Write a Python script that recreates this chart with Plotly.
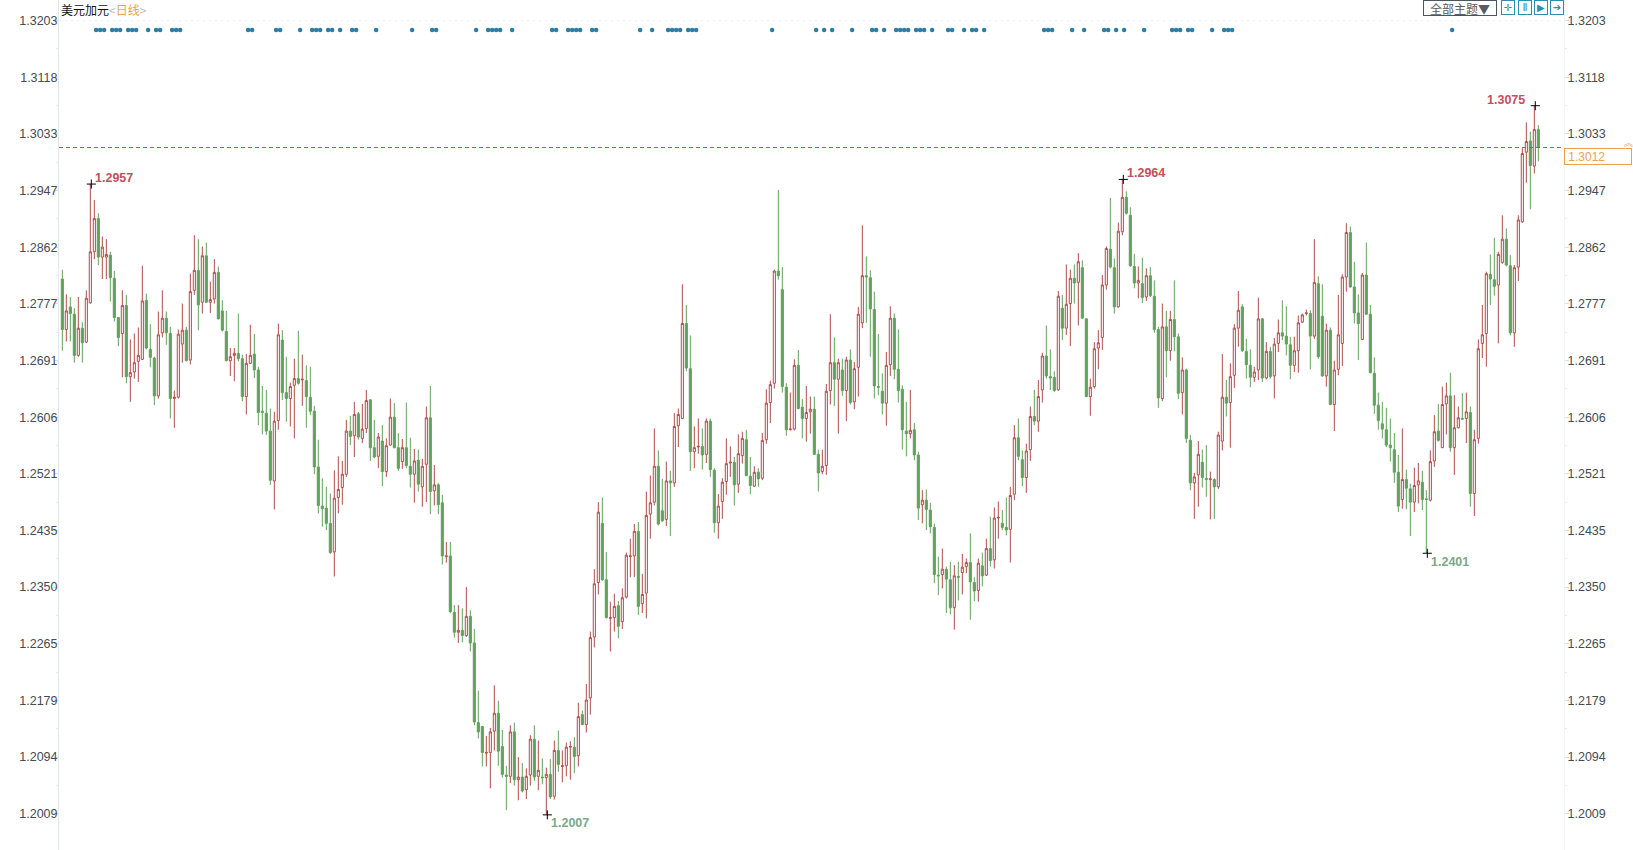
import numpy as np
import plotly.graph_objects as go

tick_values = [1.3203,1.3118,1.3033,1.2947,1.2862,1.2777,1.2691,1.2606,1.2521,1.2435,1.2350,1.2265,1.2179,1.2094,1.2009]

highs = [
1.2828,1.2791,1.2787,1.2770,1.2787,1.2749,1.2797,1.2957,1.2933,1.2913,
1.2878,1.2874,1.2855,1.2826,1.2757,1.2797,1.2790,1.2723,1.2732,1.2741,
1.2834,1.2792,1.2746,1.2697,1.2765,1.2797,1.2765,1.2742,1.2646,1.2738,
1.2777,1.2742,1.2822,1.2880,1.2874,1.2863,1.2869,1.2810,1.2844,1.2833,
1.2782,1.2766,1.2710,1.2710,1.2762,1.2700,1.2701,1.2745,1.2731,1.2682,
1.2653,1.2647,1.2619,1.2614,1.2747,1.2737,1.2697,1.2658,1.2694,1.2736,
1.2700,1.2684,1.2682,1.2623,1.2572,1.2514,1.2501,1.2491,1.2526,1.2547,
1.2540,1.2602,1.2608,1.2629,1.2614,1.2626,1.2647,1.2633,1.2602,1.2582,
1.2594,1.2574,1.2634,1.2627,1.2582,1.2573,1.2628,1.2575,1.2558,1.2557,
1.2543,1.2622,1.2653,1.2534,1.2507,1.2489,1.2418,1.2418,1.2323,1.2323,
1.2318,1.2350,1.2315,1.2287,1.2194,1.2141,1.2126,1.2138,1.2202,1.2179,
1.2135,1.2081,1.2142,1.2146,1.2094,1.2085,1.2077,1.2127,1.2142,1.2119,
1.2092,1.2078,1.2091,1.2119,1.2134,1.2104,1.2116,1.2118,1.2124,1.2176,
1.2164,1.2204,1.2283,1.2377,1.2478,1.2485,1.2403,1.2328,1.2340,1.2329,
1.2348,1.2402,1.2423,1.2445,1.2448,1.2370,1.2494,1.2518,1.2589,1.2556,
1.2513,1.2539,1.2525,1.2612,1.2619,1.2806,1.2775,1.2729,1.2592,1.2604,
1.2589,1.2604,1.2604,1.2529,1.2490,1.2514,1.2574,1.2562,1.2546,1.2580,
1.2584,1.2587,1.2546,1.2532,1.2529,1.2582,1.2648,1.2661,1.2828,1.2948,
1.2832,1.2657,1.2643,1.2693,1.2707,1.2633,1.2653,1.2637,1.2637,1.2557,
1.2557,1.2656,1.2761,1.2726,1.2694,1.2694,1.2697,1.2708,1.2689,1.2772,
1.2895,1.2848,1.2827,1.2795,1.2731,1.2672,1.2704,1.2773,1.2762,1.2738,
1.2654,1.2629,1.2647,1.2597,1.2554,1.2496,1.2497,1.2477,1.2446,1.2396,
1.2408,1.2381,1.2388,1.2383,1.2388,1.2400,1.2393,1.2431,1.2365,1.2393,
1.2402,1.2423,1.2456,1.2470,1.2479,1.2466,1.2485,1.2501,1.2594,1.2604,
1.2556,1.2566,1.2622,1.2647,1.2662,1.2703,1.2744,1.2708,1.2675,1.2796,
1.2790,1.2836,1.2828,1.2836,1.2853,1.2842,1.2755,1.2664,1.2719,1.2737,
1.2820,1.2863,1.2936,1.2845,1.2899,1.2964,1.2946,1.2922,1.2852,1.2833,
1.2846,1.2830,1.2832,1.2812,1.2742,1.2777,1.2766,1.2766,1.2812,1.2732,
1.2696,1.2679,1.2579,1.2522,1.2570,1.2557,1.2564,1.2524,1.2514,1.2584,
1.2701,1.2662,1.2687,1.2746,1.2796,1.2776,1.2724,1.2708,1.2682,1.2786,
1.2755,1.2719,1.2712,1.2725,1.2753,1.2782,1.2773,1.2727,1.2727,1.2759,
1.2762,1.2768,1.2767,1.2874,1.2818,1.2806,1.2747,1.2741,1.2691,1.2790,
1.2821,1.2898,1.2893,1.2840,1.2791,1.2823,1.2869,1.2775,1.2696,1.2643,
1.2629,1.2620,1.2604,1.2582,1.2549,1.2589,1.2527,1.2506,1.2530,1.2537,
1.2525,1.2496,1.2556,1.2609,1.2626,1.2652,1.2658,1.2673,1.2639,1.2622,
1.2642,1.2643,1.2622,1.2587,1.2723,1.2775,1.2825,1.2851,1.2876,1.2855,
1.2910,1.2890,1.2850,1.2835,1.2910,1.3011,1.3050,1.3036,1.3075,1.3046,
]

lows = [
1.2706,1.2720,1.2720,1.2688,1.2697,1.2688,1.2718,1.2777,1.2844,1.2835,
1.2814,1.2814,1.2780,1.2750,1.2713,1.2666,1.2657,1.2629,1.2664,1.2659,
1.2692,1.2708,1.2681,1.2624,1.2634,1.2726,1.2715,1.2604,1.2590,1.2634,
1.2688,1.2690,1.2685,1.2790,1.2737,1.2762,1.2778,1.2763,1.2777,1.2753,
1.2735,1.2690,1.2668,1.2660,1.2690,1.2630,1.2610,1.2686,1.2665,1.2594,
1.2580,1.2579,1.2504,1.2467,1.2587,1.2632,1.2599,1.2592,1.2574,1.2655,
1.2623,1.2590,1.2609,1.2520,1.2461,1.2441,1.2436,1.2400,1.2366,1.2461,
1.2474,1.2516,1.2564,1.2546,1.2572,1.2567,1.2582,1.2540,1.2544,1.2529,
1.2502,1.2516,1.2563,1.2559,1.2525,1.2528,1.2529,1.2500,1.2477,1.2494,
1.2471,1.2478,1.2460,1.2473,1.2460,1.2384,1.2387,1.2311,1.2274,1.2266,
1.2267,1.2275,1.2253,1.2142,1.2122,1.2080,1.2080,1.2047,1.2104,1.2081,
1.2063,1.2014,1.2055,1.2051,1.2029,1.2041,1.2031,1.2051,1.2058,1.2044,
1.2053,1.2007,1.2031,1.2030,1.2072,1.2056,1.2065,1.2060,1.2070,1.2080,
1.2142,1.2131,1.2158,1.2259,1.2339,1.2360,1.2303,1.2253,1.2283,1.2273,
1.2287,1.2333,1.2365,1.2365,1.2308,1.2311,1.2303,1.2423,1.2473,1.2443,
1.2448,1.2442,1.2427,1.2501,1.2561,1.2603,1.2675,1.2525,1.2529,1.2551,
1.2527,1.2537,1.2516,1.2432,1.2423,1.2453,1.2489,1.2516,1.2473,1.2492,
1.2536,1.2517,1.2490,1.2501,1.2501,1.2511,1.2566,1.2597,1.2649,1.2813,
1.2643,1.2578,1.2586,1.2586,1.2618,1.2574,1.2569,1.2581,1.2549,1.2494,
1.2520,1.2519,1.2625,1.2623,1.2581,1.2638,1.2600,1.2625,1.2618,1.2637,
1.2740,1.2748,1.2697,1.2634,1.2639,1.2610,1.2593,1.2668,1.2663,1.2628,
1.2557,1.2547,1.2574,1.2541,1.2451,1.2446,1.2436,1.2431,1.2356,1.2338,
1.2348,1.2311,1.2309,1.2286,1.2330,1.2339,1.2371,1.2301,1.2329,1.2328,
1.2351,1.2367,1.2381,1.2378,1.2423,1.2436,1.2428,1.2387,1.2481,1.2541,
1.2502,1.2492,1.2540,1.2594,1.2584,1.2628,1.2664,1.2647,1.2644,1.2646,
1.2722,1.2730,1.2713,1.2777,1.2744,1.2754,1.2636,1.2608,1.2649,1.2678,
1.2707,1.2798,1.2830,1.2762,1.2771,1.2880,1.2911,1.2832,1.2800,1.2785,
1.2778,1.2781,1.2787,1.2733,1.2620,1.2630,1.2666,1.2691,1.2705,1.2633,
1.2610,1.2567,1.2496,1.2453,1.2471,1.2500,1.2486,1.2452,1.2453,1.2498,
1.2556,1.2607,1.2560,1.2650,1.2712,1.2704,1.2664,1.2651,1.2659,1.2662,
1.2659,1.2663,1.2664,1.2634,1.2704,1.2722,1.2699,1.2663,1.2674,1.2673,
1.2748,1.2759,1.2678,1.2724,1.2694,1.2667,1.2652,1.2624,1.2585,1.2669,
1.2683,1.2795,1.2801,1.2747,1.2692,1.2722,1.2760,1.2672,1.2611,1.2587,
1.2574,1.2561,1.2539,1.2507,1.2463,1.2468,1.2467,1.2427,1.2463,1.2476,
1.2466,1.2401,1.2479,1.2531,1.2569,1.2560,1.2580,1.2554,1.2519,1.2589,
1.2602,1.2567,1.2471,1.2457,1.2566,1.2695,1.2682,1.2775,1.2789,1.2717,
1.2837,1.2833,1.2729,1.2712,1.2811,1.2899,1.2959,1.2919,1.2973,1.2991,
]

opens = [
1.2814,1.2738,1.2772,1.2761,1.2699,1.2740,1.2719,1.2778,1.2855,1.2905,
1.2847,1.2847,1.2850,1.2815,1.2756,1.2732,1.2774,1.2667,1.2674,1.2690,
1.2693,1.2782,1.2708,1.2695,1.2638,1.2733,1.2755,1.2732,1.2634,1.2636,
1.2716,1.2737,1.2692,1.2797,1.2827,1.2779,1.2849,1.2779,1.2784,1.2824,
1.2766,1.2735,1.2691,1.2699,1.2702,1.2694,1.2637,1.2687,1.2701,1.2677,
1.2615,1.2612,1.2585,1.2510,1.2601,1.2722,1.2643,1.2634,1.2654,1.2664,
1.2662,1.2661,1.2636,1.2615,1.2531,1.2472,1.2469,1.2446,1.2403,1.2485,
1.2500,1.2520,1.2585,1.2578,1.2611,1.2574,1.2589,1.2632,1.2560,1.2547,
1.2570,1.2524,1.2564,1.2606,1.2560,1.2539,1.2560,1.2532,1.2520,1.2541,
1.2501,1.2535,1.2605,1.2495,1.2504,1.2477,1.2396,1.2397,1.2312,1.2282,
1.2285,1.2277,1.2306,1.2266,1.2146,1.2140,1.2100,1.2101,1.2133,1.2160,
1.2110,1.2067,1.2065,1.2132,1.2060,1.2064,1.2045,1.2067,1.2121,1.2065,
1.2064,1.2063,1.2068,1.2035,1.2104,1.2080,1.2081,1.2109,1.2109,1.2096,
1.2158,1.2143,1.2183,1.2275,1.2357,1.2446,1.2361,1.2303,1.2304,1.2322,
1.2298,1.2335,1.2396,1.2397,1.2434,1.2325,1.2341,1.2460,1.2478,1.2532,
1.2465,1.2452,1.2510,1.2507,1.2593,1.2604,1.2747,1.2679,1.2554,1.2561,
1.2562,1.2550,1.2600,1.2526,1.2447,1.2479,1.2509,1.2537,1.2538,1.2505,
1.2548,1.2572,1.2517,1.2502,1.2523,1.2514,1.2572,1.2628,1.2657,1.2826,
1.2798,1.2651,1.2587,1.2588,1.2684,1.2621,1.2604,1.2614,1.2618,1.2550,
1.2524,1.2533,1.2646,1.2688,1.2663,1.2677,1.2646,1.2692,1.2629,1.2681,
1.2748,1.2819,1.2816,1.2768,1.2652,1.2645,1.2627,1.2685,1.2755,1.2678,
1.2648,1.2585,1.2581,1.2587,1.2549,1.2474,1.2481,1.2466,1.2440,1.2368,
1.2369,1.2377,1.2361,1.2319,1.2366,1.2372,1.2381,1.2387,1.2357,1.2345,
1.2382,1.2368,1.2408,1.2391,1.2454,1.2446,1.2440,1.2437,1.2490,1.2575,
1.2542,1.2515,1.2557,1.2607,1.2600,1.2647,1.2698,1.2667,1.2666,1.2647,
1.2770,1.2740,1.2777,1.2815,1.2809,1.2831,1.2754,1.2637,1.2652,1.2710,
1.2726,1.2805,1.2859,1.2831,1.2772,1.2885,1.2937,1.2910,1.2833,1.2808,
1.2807,1.2787,1.2819,1.2788,1.2738,1.2634,1.2742,1.2706,1.2753,1.2727,
1.2643,1.2677,1.2571,1.2507,1.2519,1.2538,1.2514,1.2512,1.2512,1.2501,
1.2570,1.2636,1.2628,1.2669,1.2740,1.2772,1.2705,1.2684,1.2666,1.2677,
1.2754,1.2665,1.2705,1.2668,1.2717,1.2733,1.2728,1.2715,1.2684,1.2706,
1.2749,1.2762,1.2762,1.2728,1.2807,1.2758,1.2668,1.2737,1.2625,1.2678,
1.2717,1.2817,1.2884,1.2802,1.2763,1.2723,1.2820,1.2761,1.2672,1.2624,
1.2596,1.2587,1.2564,1.2557,1.2523,1.2482,1.2512,1.2498,1.2478,1.2504,
1.2508,1.2483,1.2481,1.2540,1.2585,1.2560,1.2626,1.2638,1.2560,1.2590,
1.2604,1.2604,1.2613,1.2491,1.2574,1.2717,1.2732,1.2821,1.2813,1.2805,
1.2839,1.2874,1.2834,1.2733,1.2832,1.2900,1.3005,1.3022,1.2984,1.3039,
]

closes = [
1.2738,1.2766,1.2762,1.2699,1.2740,1.2718,1.2785,1.2855,1.2905,1.2847,
1.2862,1.2851,1.2816,1.2756,1.2726,1.2774,1.2667,1.2673,1.2688,1.2699,
1.2781,1.2710,1.2696,1.2638,1.2730,1.2755,1.2733,1.2634,1.2636,1.2731,
1.2737,1.2691,1.2795,1.2827,1.2775,1.2849,1.2779,1.2783,1.2824,1.2754,
1.2737,1.2691,1.2697,1.2702,1.2694,1.2637,1.2687,1.2699,1.2677,1.2613,
1.2613,1.2585,1.2511,1.2600,1.2730,1.2643,1.2634,1.2652,1.2664,1.2657,
1.2663,1.2637,1.2615,1.2531,1.2473,1.2468,1.2446,1.2402,1.2484,1.2497,
1.2520,1.2585,1.2577,1.2610,1.2576,1.2588,1.2631,1.2560,1.2546,1.2576,
1.2524,1.2563,1.2606,1.2560,1.2529,1.2560,1.2533,1.2520,1.2540,1.2505,
1.2532,1.2605,1.2494,1.2504,1.2474,1.2397,1.2397,1.2313,1.2282,1.2285,
1.2277,1.2306,1.2266,1.2147,1.2132,1.2101,1.2101,1.2132,1.2160,1.2103,
1.2068,1.2065,1.2132,1.2060,1.2064,1.2043,1.2065,1.2121,1.2064,1.2074,
1.2063,1.2068,1.2034,1.2104,1.2083,1.2081,1.2109,1.2110,1.2095,1.2155,
1.2143,1.2180,1.2274,1.2355,1.2463,1.2361,1.2304,1.2304,1.2321,1.2291,
1.2334,1.2398,1.2397,1.2434,1.2321,1.2339,1.2458,1.2477,1.2532,1.2445,
1.2450,1.2510,1.2507,1.2592,1.2610,1.2747,1.2680,1.2554,1.2560,1.2562,
1.2549,1.2600,1.2527,1.2447,1.2472,1.2508,1.2536,1.2538,1.2504,1.2551,
1.2574,1.2518,1.2503,1.2523,1.2513,1.2571,1.2627,1.2655,1.2826,1.2819,
1.2652,1.2587,1.2588,1.2684,1.2619,1.2604,1.2613,1.2618,1.2550,1.2522,
1.2532,1.2645,1.2688,1.2663,1.2688,1.2646,1.2692,1.2628,1.2679,1.2761,
1.2819,1.2817,1.2769,1.2653,1.2651,1.2627,1.2684,1.2755,1.2678,1.2646,
1.2587,1.2581,1.2586,1.2549,1.2469,1.2481,1.2467,1.2441,1.2369,1.2367,
1.2377,1.2362,1.2319,1.2367,1.2365,1.2380,1.2387,1.2358,1.2344,1.2386,
1.2367,1.2408,1.2390,1.2454,1.2455,1.2440,1.2436,1.2488,1.2575,1.2547,
1.2515,1.2555,1.2607,1.2600,1.2637,1.2698,1.2668,1.2665,1.2646,1.2788,
1.2740,1.2776,1.2815,1.2808,1.2840,1.2755,1.2637,1.2651,1.2709,1.2718,
1.2805,1.2860,1.2832,1.2772,1.2886,1.2937,1.2913,1.2834,1.2808,1.2812,
1.2786,1.2819,1.2789,1.2738,1.2635,1.2742,1.2706,1.2753,1.2727,1.2642,
1.2677,1.2574,1.2507,1.2516,1.2550,1.2515,1.2512,1.2513,1.2501,1.2579,
1.2636,1.2627,1.2667,1.2740,1.2767,1.2706,1.2685,1.2666,1.2674,1.2754,
1.2665,1.2705,1.2667,1.2716,1.2733,1.2728,1.2716,1.2684,1.2706,1.2748,
1.2760,1.2763,1.2728,1.2809,1.2697,1.2668,1.2737,1.2625,1.2677,1.2730,
1.2817,1.2884,1.2802,1.2763,1.2747,1.2820,1.2761,1.2673,1.2624,1.2601,
1.2588,1.2564,1.2560,1.2523,1.2472,1.2512,1.2499,1.2478,1.2503,1.2510,
1.2482,1.2482,1.2539,1.2584,1.2571,1.2625,1.2638,1.2560,1.2590,1.2605,
1.2603,1.2614,1.2491,1.2572,1.2709,1.2730,1.2822,1.2814,1.2803,1.2851,
1.2874,1.2835,1.2733,1.2831,1.2903,1.3003,1.3021,1.2985,1.3039,1.3012,
]

signal_days = [8,9,10,12,13,14,16,17,18,21,23,24,27,28,29,46,47,53,54,59,62,63,64,66,67,69,72,73,78,87,92,93,
               103,106,107,108,109,112,122,123,126,127,128,129,132,133,144,147,151,152,153,154,156,157,158,177,188,190,192,197,
               202,203,205,208,209,210,211,213,214,215,217,221,222,225,227,228,230,245,246,247,252,255,260,261,263,265,270,
               277,278,279,281,282,287,290,291,292,347]
signal_level = 1.3189

peak_days = [7, 265, 368]
trough_days = [121, 341]

title_name = "美元加元"
title_period = "日线"
toolbar_label = "全部主题▼"
toolbar_icons = ["✛", "Ⅱ", "▶", "➔"]

RED = "#b04c4a"
GREEN = "#62a05c"
LABEL_RED = "#c4505a"
LABEL_GREEN = "#7aa888"
ORANGE = "#e8a34e"
TEAL = "#2e7ba3"
AXIS = "#dfe7ef"
TEXT = "#444b52"
FONT = "Liberation Sans, Arial, sans-serif"
CJK = "Noto Sans CJK SC, sans-serif"

days = list(range(len(closes)))
last_price = closes[-1]

W, H = 1633, 850
L, R = 59, 69
Y_RANGE = [1.19541, 1.32342]
X_RANGE = [-0.83, 375.42]
SIGNAL_OFFSET = 0.45
CROSS_OFFSET = 0.25

minor_vals = [(a + b) / 2 for a, b in zip(tick_values[:-1], tick_values[1:])]

fig = go.Figure()
fig.add_trace(go.Candlestick(
    x=days, open=opens, high=highs, low=lows, close=closes,
    increasing=dict(line=dict(color=RED, width=1), fillcolor="#ffffff"),
    decreasing=dict(line=dict(color=GREEN, width=1), fillcolor=GREEN),
    whiskerwidth=0, showlegend=False, hoverinfo="skip", yaxis="y",
))
fig.add_trace(go.Scatter(
    x=[d + SIGNAL_OFFSET for d in signal_days], y=[signal_level] * len(signal_days), mode="markers",
    marker=dict(size=4.5, color=TEAL), showlegend=False, hoverinfo="skip", yaxis="y2",
))
fig.add_trace(go.Scatter(
    x=[d + CROSS_OFFSET for d in peak_days + trough_days],
    y=[highs[i] for i in peak_days] + [lows[i] for i in trough_days],
    mode="markers",
    marker=dict(symbol="cross-thin", size=6.5, line=dict(color="#000000", width=1)),
    showlegend=False, hoverinfo="skip", yaxis="y",
))

axis_common = dict(
    range=Y_RANGE, tickmode="array", tickvals=tick_values,
    ticktext=[f"{v:.4f}" for v in tick_values], ticks="outside", ticklen=4,
    tickcolor="#d5dde5", tickfont=dict(family=FONT, size=12.5, color=TEXT),
    showgrid=False, zeroline=False, showline=True, fixedrange=True,
    minor=dict(tickvals=minor_vals, ticks="outside", ticklen=2, tickcolor="#e6ecf2"),
)

fig.update_layout(
    width=W, height=H, margin=dict(l=L, r=R, t=0, b=0),
    paper_bgcolor="#ffffff", plot_bgcolor="#ffffff",
    boxgap=0.25, showlegend=False,
    xaxis=dict(range=X_RANGE, visible=False, rangeslider=dict(visible=False), fixedrange=True),
    yaxis=dict(side="left", linecolor=AXIS, ticklabelstandoff=-6, **axis_common),
    yaxis2=dict(side="right", overlaying="y", linecolor="#f3f5f7", ticklabelstandoff=-4, **axis_common),
    shapes=[
        dict(type="line", xref="paper", x0=0, x1=1, yref="y", y0=last_price, y1=last_price,
             line=dict(color="#2f8aa8", width=1, dash="4px,3px")),
        dict(type="line", xref="paper", x0=0, x1=1, yref="y", y0=tick_values[0], y1=tick_values[0],
             line=dict(color="#ececec", width=1, dash="2px,4px")),
    ],
)

anns = []
def note(text, x, y, xanchor="left", yanchor="middle", color=TEXT, size=12, family=FONT, **kw):
    anns.append(dict(text=text, xref="paper", yref="paper", x=x / (W - L - R) - L / (W - L - R),
                     y=1 - y / H, xanchor=xanchor, yanchor=yanchor, showarrow=False,
                     font=dict(color=color, size=size, family=family), **kw))

def extreme(i, value, color, dx, dy, anchor):
    anns.append(dict(text=f"<b>{value:.4f}</b>", xref="x", yref="y", x=i, y=value, xanchor=anchor,
                     yanchor="middle", xshift=dx, yshift=dy, showarrow=False,
                     font=dict(color=color, size=12.5, family=FONT)))

extreme(peak_days[0], highs[peak_days[0]], LABEL_RED, 3, 6, "left")
extreme(peak_days[1], highs[peak_days[1]], LABEL_RED, 3, 6, "left")
extreme(peak_days[2], highs[peak_days[2]], LABEL_RED, -7, 6, "right")
extreme(trough_days[0], lows[trough_days[0]], LABEL_GREEN, 3, -8, "left")
extreme(trough_days[1], lows[trough_days[1]], LABEL_GREEN, 3, -9, "left")

note(f'<span style="color:#111111">{title_name}</span>'
     f'<span style="color:#c9b9a0">&lt;</span>'
     f'<span style="color:{ORANGE}">{title_period}</span>'
     f'<span style="color:#c9b9a0">&gt;</span>', 60, 10, size=12, family=CJK, borderpad=0)

note(toolbar_label, 1460, 8, xanchor="center", color="#555c63", size=12, family=CJK,
     bordercolor="#4a5560", borderwidth=1, borderpad=0, width=72, height=14, bgcolor="#ffffff")
for cx, glyph in zip([1508, 1525, 1541, 1557], toolbar_icons):
    note(glyph, cx, 8, xanchor="center", color="#2a8fb0", size=10, family="DejaVu Sans",
         bordercolor="#2a8fb0", borderwidth=1, borderpad=0, width=12, height=13, bgcolor="#ffffff")

note(f"&nbsp;{last_price:.4f}", 1564, 156.5, color=ORANGE, size=12,
     bordercolor=ORANGE, borderwidth=1, borderpad=0, width=66, height=15, align="left", bgcolor="#ffffff")
note("︽", 1628, 143, xanchor="center", color=ORANGE, size=9, family=CJK)

fig.update_layout(annotations=anns)

fig.write_html("out.html", config={"displayModeBar": False},
               post_script="document.body.style.margin='0';document.body.style.overflow='hidden';")
